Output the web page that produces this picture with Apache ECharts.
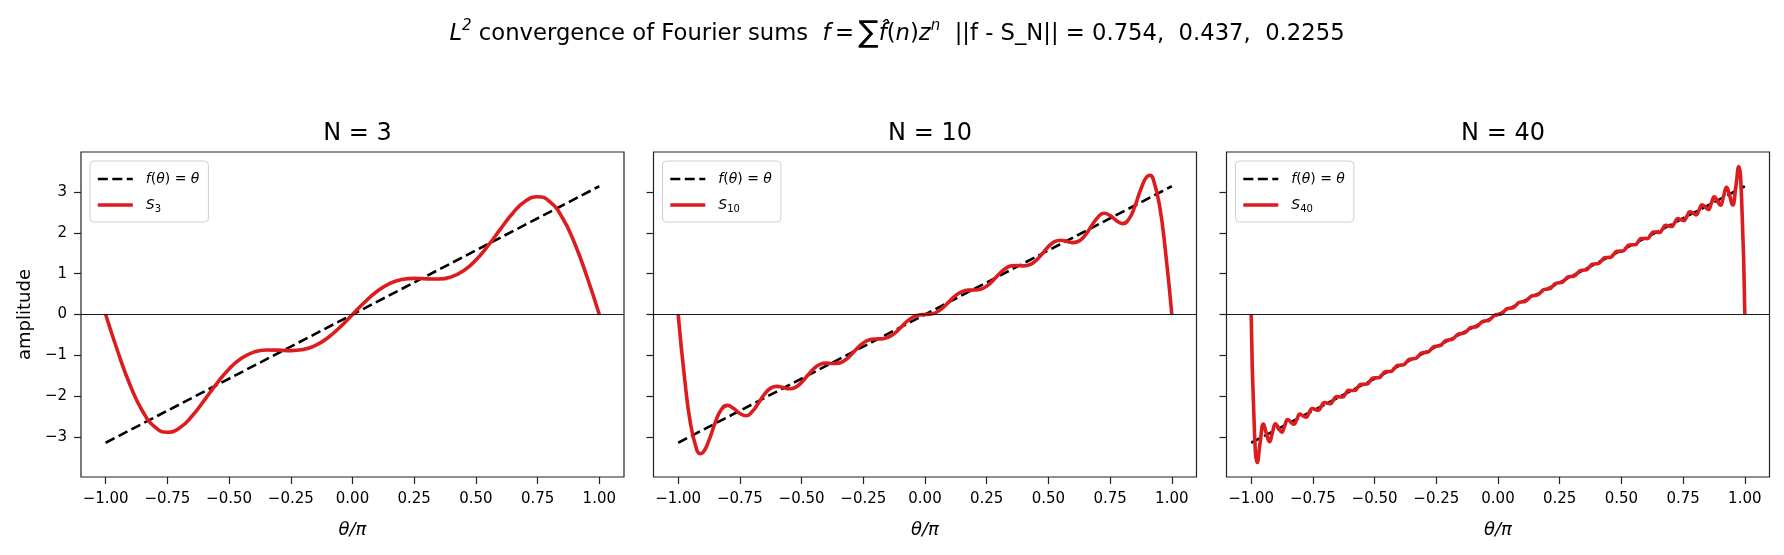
<!DOCTYPE html>
<html>
<head>
<meta charset="utf-8">
<script src="https://cdn.jsdelivr.net/npm/echarts@6/dist/echarts.min.js"></script>
<style>
html, body { margin: 0; padding: 0; background: #fff; }
#chart { width: 1784px; height: 555px; }
</style>
</head>
<body>
<div id="chart"></div>
<script>
// tick labels
const xTicks = [-1, -0.75, -0.5, -0.25, 0, 0.25, 0.5, 0.75, 1]
const yTicks = [-3, -2, -1, 0, 1, 2, 3]

// orders of the partial sums and the L2 errors shown in the title
const orders = [3, 10, 40]
const errNorms = [0.754, 0.437, 0.2255]

// f(theta) = theta, in units of theta/pi on x
const lineX = [-1, 1]
const lineY = [-3.1416, 3.1416]

// S_3
const theta3 = [-1, -0.95, -0.9, -0.85, -0.8, -0.75, -0.7, -0.65, -0.6, -0.55, -0.5, -0.45, -0.4, -0.35, -0.3, -0.25, -0.2, -0.15, -0.1, -0.05,
  0, 0.05, 0.1, 0.15, 0.2, 0.25, 0.3, 0.35, 0.4, 0.45, 0.5, 0.55, 0.6, 0.65, 0.7, 0.75, 0.8, 0.85, 0.9, 0.95, 1]
const s3 = [0, -0.9246, -1.7452, -2.3755, -2.7607, -2.8856, -2.7751, -2.4867, -2.098, -1.6904, -1.3333, -1.0724, -0.9225, -0.8687, -0.873, -0.8856, -0.8586, -0.7574, -0.5696, -0.3065,
  0, 0.3065, 0.5696, 0.7574, 0.8586, 0.8856, 0.873, 0.8687, 0.9225, 1.0724, 1.3333, 1.6904, 2.098, 2.4867, 2.7751, 2.8856, 2.7607, 2.3755, 1.7452, 0.9246, 0]

// S_10
const theta10 = [-1, -0.975, -0.95, -0.925, -0.9125, -0.9, -0.875, -0.85, -0.825, -0.8, -0.775, -0.75, -0.725, -0.7, -0.675, -0.65, -0.625, -0.6, -0.575, -0.55,
  -0.525, -0.5, -0.475, -0.45, -0.425, -0.4, -0.375, -0.35, -0.325, -0.3, -0.275, -0.25, -0.225, -0.2, -0.175, -0.15, -0.125, -0.1, -0.075, -0.05, -0.025,
  0, 0.025, 0.05, 0.075, 0.1, 0.125, 0.15, 0.175, 0.2, 0.225, 0.25, 0.275, 0.3, 0.325, 0.35, 0.375, 0.4, 0.425, 0.45, 0.475,
  0.5, 0.525, 0.55, 0.575, 0.6, 0.625, 0.65, 0.675, 0.7, 0.725, 0.75, 0.775, 0.8, 0.825, 0.85, 0.875, 0.9, 0.9125, 0.925, 0.95, 0.975, 1]
const s10 = [0, -1.51, -2.682, -3.309, -3.407, -3.383, -3.076, -2.647, -2.325, -2.226, -2.305, -2.4245, -2.4814, -2.3775, -2.1711, -1.9511, -1.803, -1.7598, -1.7892, -1.8188,
  -1.7831, -1.6617, -1.4874, -1.3228, -1.2202, -1.1906, -1.1994, -1.1905, -1.1213, -0.9888, -0.8293, -0.6945, -0.6189, -0.5988, -0.5959, -0.5621, -0.4698, -0.3286, -0.1789, -0.0662, -0.0117,
  0, 0.0117, 0.0662, 0.1789, 0.3286, 0.4698, 0.5621, 0.5959, 0.5988, 0.6189, 0.6945, 0.8293, 0.9888, 1.1213, 1.1905, 1.1994, 1.1906, 1.2202, 1.3228, 1.4874,
  1.6617, 1.7831, 1.8188, 1.7892, 1.7598, 1.803, 1.9511, 2.1711, 2.3775, 2.4814, 2.4245, 2.305, 2.226, 2.325, 2.647, 3.076, 3.383, 3.407, 3.309, 2.682, 1.51, 0]

// S_40
const theta40 = [
  -1, -0.9877, -0.9753, -0.963, -0.9506, -0.9383, -0.9259, -0.9136, -0.9012, -0.8889,
  -0.8765, -0.8642, -0.8519, -0.8395, -0.8272, -0.8148, -0.8025, -0.7901, -0.7778, -0.7654,
  -0.7531, -0.7407, -0.7284, -0.716, -0.7037, -0.6914, -0.679, -0.6667, -0.6543, -0.642,
  -0.6296, -0.6173, -0.6049, -0.5926, -0.5802, -0.5679, -0.5556, -0.5432, -0.5309, -0.5185,
  -0.5062, -0.4938, -0.4815, -0.4691, -0.4568, -0.4444, -0.4321, -0.4198, -0.4074, -0.3951,
  -0.3827, -0.3704, -0.358, -0.3457, -0.3333, -0.321, -0.3086, -0.2963, -0.284, -0.2716,
  -0.2593, -0.2469, -0.2346, -0.2222, -0.2099, -0.1975, -0.1852, -0.1728, -0.1605, -0.1481,
  -0.1358, -0.1235, -0.1111, -0.0988, -0.0864, -0.0741, -0.0617, -0.0494, -0.037, -0.0247,
  -0.0123,
  0, 0.0123, 0.0247, 0.037, 0.0494, 0.0617, 0.0741, 0.0864, 0.0988, 0.1111,
  0.1235, 0.1358, 0.1481, 0.1605, 0.1728, 0.1852, 0.1975, 0.2099, 0.2222, 0.2346,
  0.2469, 0.2593, 0.2716, 0.284, 0.2963, 0.3086, 0.321, 0.3333, 0.3457, 0.358,
  0.3704, 0.3827, 0.3951, 0.4074, 0.4198, 0.4321, 0.4444, 0.4568, 0.4691, 0.4815,
  0.4938, 0.5062, 0.5185, 0.5309, 0.5432, 0.5556, 0.5679, 0.5802, 0.5926, 0.6049,
  0.6173, 0.6296, 0.642, 0.6543, 0.6667, 0.679, 0.6914, 0.7037, 0.716, 0.7284,
  0.7407, 0.7531, 0.7654, 0.7778, 0.7901, 0.8025, 0.8148, 0.8272, 0.8395, 0.8519,
  0.8642, 0.8765, 0.8889, 0.9012, 0.9136, 0.9259, 0.9383, 0.9506, 0.963, 0.9753,
  0.9877, 1]
const s40 = [
  0, -2.7028, -3.6262, -3.1016, -2.6813, -2.9185, -3.1163, -2.8859, -2.6741, -2.7827,
  -2.8801, -2.7216, -2.5706, -2.6326, -2.6896, -2.5634, -2.4411, -2.4823, -2.5148, -2.4047,
  -2.3014, -2.3271, -2.3472, -2.2495, -2.1565, -2.172, -2.1837, -2.0944, -2.0084, -2.0168,
  -2.0224, -1.9393, -1.8586, -1.8617, -1.8627, -1.7841, -1.7074, -1.7065, -1.7041, -1.629,
  -1.5554, -1.5514, -1.5461, -1.4738, -1.4026, -1.3963, -1.3888, -1.3187, -1.2495, -1.2411,
  -1.2319, -1.1636, -1.096, -1.086, -1.0754, -1.0084, -0.942, -0.9308, -0.9191, -0.8533,
  -0.7879, -0.7757, -0.763, -0.6981, -0.6335, -0.6206, -0.6073, -0.543, -0.479, -0.4654,
  -0.4516, -0.3879, -0.3243, -0.3103, -0.2961, -0.2327, -0.1694, -0.1551, -0.1408, -0.0776,
  -0.0144,
  0, 0.0144, 0.0776, 0.1408, 0.1551, 0.1694, 0.2327, 0.2961, 0.3103, 0.3243,
  0.3879, 0.4516, 0.4654, 0.479, 0.543, 0.6073, 0.6206, 0.6335, 0.6981, 0.763,
  0.7757, 0.7879, 0.8533, 0.9191, 0.9308, 0.942, 1.0084, 1.0754, 1.086, 1.096,
  1.1636, 1.2319, 1.2411, 1.2495, 1.3187, 1.3888, 1.3963, 1.4026, 1.4738, 1.5461,
  1.5514, 1.5554, 1.629, 1.7041, 1.7065, 1.7074, 1.7841, 1.8627, 1.8617, 1.8586,
  1.9393, 2.0224, 2.0168, 2.0084, 2.0944, 2.1837, 2.172, 2.1565, 2.2495, 2.3472,
  2.3271, 2.3014, 2.4047, 2.5148, 2.4823, 2.4411, 2.5634, 2.6896, 2.6326, 2.5706,
  2.7216, 2.8801, 2.7827, 2.6741, 2.8859, 3.1163, 2.9185, 2.6813, 3.1016, 3.6262,
  2.7028, 0]

const font = 'DejaVu Sans'
const red = '#dc1c1e'
const fName = 'f(θ) = θ'
const fWidth = 2.6
const sWidth = 3.6

const curves = [
    { xs: theta3, ys: s3 },
    { xs: theta10, ys: s10 },
    { xs: theta40, ys: s40 }
]
const gridLefts = [81, 653.5, 1226.5]
const gridW = 543

const fmtX = v => (v < 0 ? '\u2212' : '') + Math.abs(v).toFixed(2)
const fmtY = v => (v < 0 ? '\u2212' : '') + Math.abs(v).toFixed(0)

const chart = echarts.init(document.getElementById('chart'))

const series = []
curves.forEach((c, i) => {
    series.push({
        name: fName,
        type: 'line',
        xAxisIndex: i,
        yAxisIndex: i,
        data: lineX.map((x, j) => [x, lineY[j]]),
        symbol: 'none',
        lineStyle: { color: '#000', width: fWidth, type: [10, 4.5] },
        itemStyle: { color: '#000' },
        z: 2,
        markLine: {
            silent: true,
            symbol: 'none',
            label: { show: false },
            lineStyle: { color: '#000', width: 0.9, type: 'solid' },
            data: [{ yAxis: 0 }]
        }
    })
    series.push({
        name: 'S_' + orders[i],
        type: 'line',
        xAxisIndex: i,
        yAxisIndex: i,
        data: c.xs.map((x, j) => [x, c.ys[j]]),
        symbol: 'none',
        smooth: true,
        lineStyle: { color: red, width: sWidth },
        itemStyle: { color: red },
        z: 3
    })
})

const tickStyle = { color: '#222', width: 1.2 }

chart.setOption({
    animation: false,
    backgroundColor: '#fff',
    title: [
        {
            text: '{i|L}{sup|2} convergence of Fourier sums  {i|f}\u2009=\u2009{big|∑}{i|f\u0302}({i|n}){i|z}{sup|n}  ||f - S_N|| = ' + errNorms.join(',  '),
            left: 892,
            top: 14,
            textAlign: 'center',
            textStyle: {
                fontFamily: font, fontSize: 22.7, fontWeight: 'normal', color: '#000', lineHeight: 30,
                rich: {
                    i: { fontFamily: font, fontSize: 22.7, fontStyle: 'italic', color: '#000', lineHeight: 30 },
                    sup: { fontFamily: font, fontSize: 15, fontStyle: 'italic', color: '#000', lineHeight: 15, verticalAlign: 'top' },
                    big: { fontFamily: font, fontSize: 30, color: '#000', lineHeight: 30 }
                }
            }
        },
        ...orders.map((n, i) => ({
            text: 'N = ' + n,
            left: gridLefts[i] + gridW / 2,
            top: 117,
            textAlign: 'center',
            textStyle: { fontFamily: font, fontSize: 24, fontWeight: 'normal', color: '#000' }
        }))
    ],
    legend: orders.map((n, i) => ({
        data: [
            { name: fName, lineStyle: { width: fWidth } },
            { name: 'S_' + n, lineStyle: { width: sWidth } }
        ],
        orient: 'vertical',
        left: gridLefts[i] + 9,
        top: 161,
        itemWidth: 35,
        itemHeight: 14,
        itemGap: 8,
        padding: [9, 9, 8, 6],
        backgroundColor: 'rgba(255,255,255,0.8)',
        borderColor: '#d0d0d0',
        borderWidth: 1,
        borderRadius: 4,
        selectedMode: false,
        itemStyle: { opacity: 0 },
        formatter: name => name.startsWith('S_')
            ? '{i|S}{sub|' + name.slice(2) + '}'
            : '{i|f}({i|θ}) = {i|θ}',
        textStyle: {
            fontFamily: font, fontSize: 14, color: '#000', lineHeight: 18, padding: [0, 0, 0, 8],
            rich: {
                i: { fontFamily: font, fontSize: 14, fontStyle: 'italic', color: '#000', lineHeight: 18 },
                sub: { fontFamily: font, fontSize: 10, color: '#000', lineHeight: 10, verticalAlign: 'bottom' }
            }
        }
    })),
    grid: gridLefts.map(l => ({
        left: l, top: 152, width: gridW, height: 325,
        show: true, borderColor: '#222', borderWidth: 1.2, backgroundColor: 'transparent'
    })),
    xAxis: orders.map((n, i) => ({
        type: 'value',
        gridIndex: i,
        min: -1.1,
        max: 1.1,
        name: 'θ/π',
        nameLocation: 'middle',
        nameGap: 44,
        nameTextStyle: { fontFamily: font, fontSize: 18, fontStyle: 'italic', color: '#000' },
        axisLine: { show: false, onZero: false },
        axisTick: { show: true, length: 7, lineStyle: tickStyle, customValues: xTicks },
        axisLabel: { customValues: xTicks, margin: 15, fontFamily: font, fontSize: 15, color: '#000', formatter: fmtX },
        splitLine: { show: false }
    })),
    yAxis: orders.map((n, i) => ({
        type: 'value',
        gridIndex: i,
        min: -3.98,
        max: 3.98,
        name: i === 0 ? 'amplitude' : '',
        nameLocation: 'middle',
        nameGap: 47,
        nameTextStyle: { fontFamily: font, fontSize: 18, color: '#000' },
        axisLine: { show: false, onZero: false },
        axisTick: { show: true, length: 7, lineStyle: tickStyle, customValues: yTicks },
        axisLabel: { show: i === 0, customValues: yTicks, margin: 14, fontFamily: font, fontSize: 15, color: '#000', formatter: fmtY },
        splitLine: { show: false }
    })),
    series: series
})
</script>
</body>
</html>
